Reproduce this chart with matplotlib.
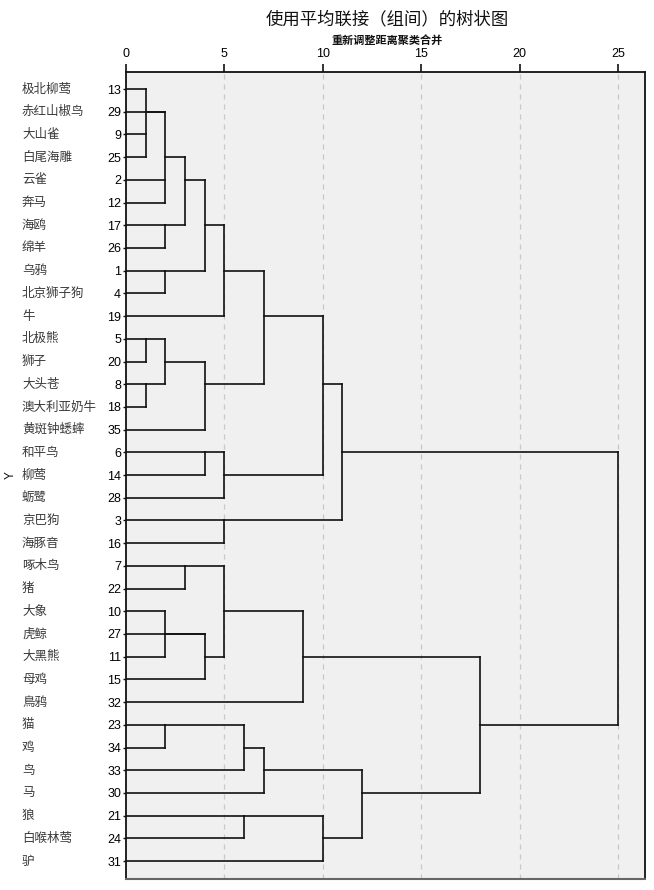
import matplotlib
matplotlib.use("Agg")
import matplotlib.pyplot as plt
from matplotlib.transforms import blended_transform_factory

plt.rcParams['font.family'] = ['Noto Sans CJK SC', 'DejaVu Sans']

# ---- data ----
names = ["极北柳莺", "赤红山椒鸟", "大山雀", "白尾海雕", "云雀", "奔马", "海鸥", "绵羊",
         "乌鸦", "北京狮子狗", "牛", "北极熊", "狮子", "大头苍", "澳大利亚奶牛", "黄斑钟蟋蟀",
         "和平鸟", "柳莺", "蛎鹭", "京巴狗", "海豚音", "啄木鸟", "猪", "大象", "虎鲸",
         "大黑熊", "母鸡", "鳥鸦", "猫", "鸡", "鸟", "马", "狼", "白喉林莺", "驴"]
case_ids = [13, 29, 9, 25, 2, 12, 17, 26, 1, 4, 19, 5, 20, 8, 18, 35, 6, 14, 28, 3, 16,
            7, 22, 10, 27, 11, 15, 32, 23, 34, 33, 30, 21, 24, 31]

# merges: (rescaled distance, members); ints are case ids, 'cN' refers to merge N
merge_heights = [1, 2, 2, 3, 2, 4, 5, 1, 1, 2, 4, 7, 4, 5, 10, 5, 11,
                 3, 2, 4, 5, 9, 2, 6, 7, 6, 10, 12, 18, 25]
merge_members = [
    [13, 9, 25], ['c0', 29, 2, 12], [17, 26], ['c1', 'c2'], [1, 4], ['c3', 'c4'],
    ['c5', 19], [5, 20], [8, 18], ['c7', 'c8'], ['c9', 35], ['c6', 'c10'],
    [6, 14], ['c12', 28], ['c11', 'c13'], [3, 16], ['c14', 'c15'],
    [7, 22], [10, 11], ['c18', 27, 15], ['c17', 'c19'], ['c20', 32],
    [23, 34], ['c22', 33], ['c23', 30], [21, 24], ['c25', 31], ['c24', 'c26'],
    ['c21', 'c27'], ['c16', 'c28'],
]
x_ticks = [0, 5, 10, 15, 20, 25]
title = "使用平均联接（组间）的树状图"
subtitle = "重新调整距离聚类合并"

# ---- figure ----
W, H = 654, 890
fig = plt.figure(figsize=(W / 100, H / 100), dpi=100)
ax = fig.add_axes([126 / W, 1 - 879 / H, (645 - 126) / W, (879 - 72) / H])
ax.set_facecolor('#F0F0F0')

pos = {}   # key -> (row, height)
for i, cid in enumerate(case_ids):
    pos[cid] = (i, 0.0)

lc = '#111111'
lw = 1.2
for k, (h, mem) in enumerate(zip(merge_heights, merge_members)):
    rows = []
    for m in mem:
        r, ch = pos[m]
        rows.append(r)
        ax.plot([ch, h], [r, r], color=lc, lw=lw, solid_capstyle='projecting', zorder=3)
    rmin, rmax = min(rows), max(rows)
    ax.plot([h, h], [rmin, rmax], color=lc, lw=lw, solid_capstyle='projecting', zorder=3)
    pos['c%d' % k] = ((rmin + rmax) // 2, h)

ax.set_xlim(0, 26.37)
ax.set_ylim(34.79, -0.75)

for t in x_ticks[1:]:
    ax.axvline(t, color='#C8C8C8', lw=0.9, ls=(0, (4, 4)), zorder=1)

ax.xaxis.tick_top()
ax.set_xticks(x_ticks)
ax.set_xticklabels([str(t) for t in x_ticks], fontfamily='Liberation Sans', fontsize=9)
ax.tick_params(axis='x', direction='out', length=6, width=1.2, pad=3, color='#111111')

ax.set_yticks(range(len(case_ids)))
ax.set_yticklabels([str(c) for c in case_ids], fontfamily='Liberation Sans', fontsize=9)
ax.tick_params(axis='y', direction='out', length=2.5, width=1.0, pad=1, color='#111111')

for side in ['left', 'top', 'right']:
    ax.spines[side].set_color('#111111')
    ax.spines[side].set_linewidth(1.3)
ax.spines['bottom'].set_color('#666666')
ax.spines['bottom'].set_linewidth(1.5)

trans = blended_transform_factory(fig.transFigure, ax.transData)
for i, nm in enumerate(names):
    fig.text(22 / W, i, nm, transform=trans, ha='left', va='center',
             fontsize=9, color='#3a3a3a')

fig.text(11 / W, 1 - 475 / H, "Y", rotation=90, ha='center', va='center',
         fontfamily='Liberation Sans', fontsize=8.5, color='#111111')

fig.text(387 / W, 1 - 19 / H, title, ha='center', va='center', fontsize=12.5, color='#111111')
fig.text(387 / W, 1 - 40 / H, subtitle, ha='center', va='center', fontsize=8,
         fontweight='bold', color='#111111')

fig.savefig('out.png', dpi=100)
